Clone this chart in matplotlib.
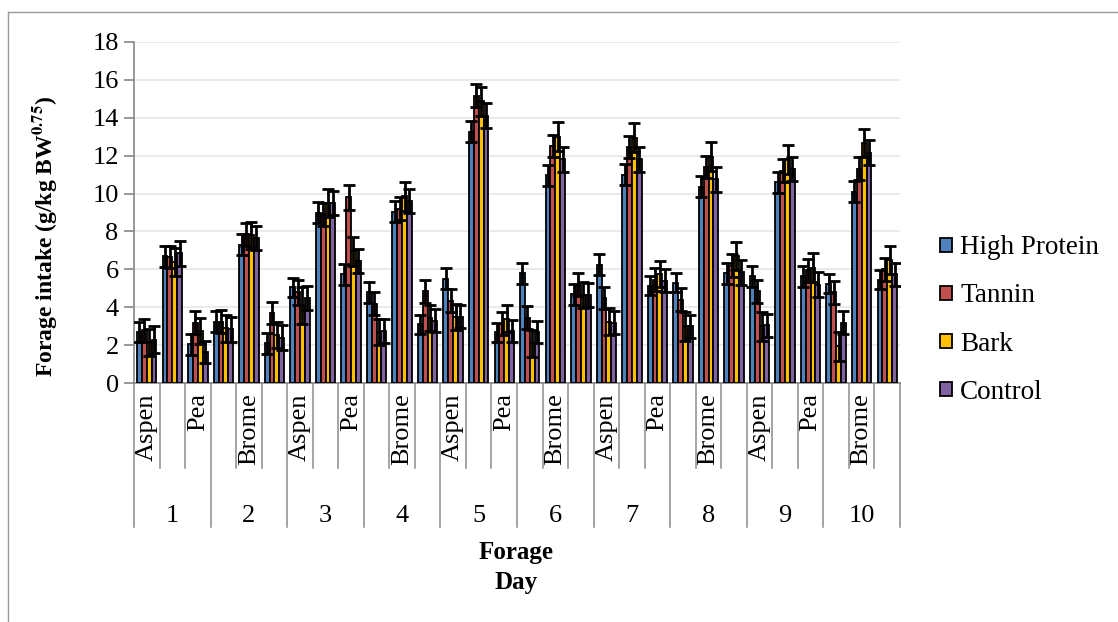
import numpy as np
import matplotlib
matplotlib.use('Agg')
import matplotlib.pyplot as plt
from matplotlib.lines import Line2D
import matplotlib.transforms as mtransforms

plt.rcParams['font.family'] = ['Liberation Serif', 'DejaVu Serif']
plt.rcParams['mathtext.fontset'] = 'stix'

# forage order inside each day, labels only shown on every second category (as in Excel)
forages = ['Aspen', 'Brome', 'Pea']
days = ['1', '2', '3', '4', '5', '6', '7', '8', '9', '10']
series = ['High Protein', 'Tannin', 'Bark', 'Control']
colors = ['#4F81BD', '#C0504D', '#FFC000', '#8064A2']

high_protein = [2.7, 6.7, 2.05, 3.25, 7.3, 2.1, 5.05, 9.0, 5.75, 4.8,
                9.05, 3.1, 5.5, 13.25, 2.7, 5.8, 10.95, 4.7, 6.25, 11.0,
                5.15, 5.3, 10.35, 5.8, 5.65, 10.6, 5.65, 5.25, 10.1, 5.45]
tannin = [2.8, 6.65, 3.2, 3.25, 7.85, 3.7, 4.8, 8.9, 9.8, 4.2,
          9.2, 4.85, 4.35, 15.15, 3.15, 3.45, 12.5, 5.2, 4.5, 12.45,
          5.45, 4.4, 11.4, 6.2, 4.85, 11.2, 5.95, 4.8, 11.3, 6.0]
bark = [2.15, 6.4, 2.75, 2.9, 7.8, 2.55, 4.1, 9.5, 6.95, 2.7,
        9.85, 3.45, 3.5, 14.85, 3.4, 2.1, 13.0, 4.65, 3.25, 12.95,
        5.75, 3.0, 11.95, 6.7, 3.0, 11.8, 6.1, 1.95, 12.65, 6.5]
control = [2.3, 6.85, 1.65, 2.85, 7.65, 2.4, 4.5, 9.5, 6.45, 2.75,
           9.6, 3.3, 3.5, 14.1, 2.75, 2.7, 11.8, 4.65, 3.2, 11.8,
           5.4, 3.0, 10.75, 5.85, 3.05, 11.3, 5.2, 3.2, 12.15, 5.75]

high_protein_err = [0.55, 0.55, 0.55, 0.55, 0.55, 0.55, 0.5, 0.55, 0.55, 0.55,
                    0.55, 0.5, 0.55, 0.55, 0.5, 0.55, 0.55, 0.55, 0.55, 0.55,
                    0.5, 0.5, 0.55, 0.55, 0.55, 0.55, 0.55, 0.5, 0.55, 0.5]
tannin_err = [0.6, 0.6, 0.6, 0.6, 0.6, 0.6, 0.65, 0.6, 0.65, 0.6,
              0.6, 0.6, 0.6, 0.6, 0.6, 0.6, 0.6, 0.6, 0.6, 0.6,
              0.6, 0.6, 0.6, 0.6, 0.6, 0.6, 0.6, 0.6, 0.6, 0.6]
bark_err = [0.7, 0.75, 0.7, 0.7, 0.7, 0.7, 1.0, 0.75, 0.75, 0.7,
            0.75, 0.7, 0.7, 0.75, 0.7, 0.7, 0.75, 0.7, 0.7, 0.75,
            0.7, 0.75, 0.75, 0.75, 0.75, 0.75, 0.75, 0.75, 0.75, 0.75]
control_err = [0.7, 0.65, 0.6, 0.65, 0.65, 0.65, 0.65, 0.65, 0.65, 0.65,
               0.65, 0.6, 0.6, 0.65, 0.6, 0.6, 0.65, 0.65, 0.6, 0.65,
               0.6, 0.6, 0.65, 0.65, 0.6, 0.65, 0.65, 0.6, 0.65, 0.6]

values = [high_protein, tannin, bark, control]
errors = [high_protein_err, tannin_err, bark_err, control_err]

W, H = 1118, 622
fig = plt.figure(figsize=(W / 100, H / 100), dpi=100)
ax_l, ax_r, ax_t, ax_b = 134, 900, 41.7, 383.3
ax = fig.add_axes([ax_l / W, 1 - ax_b / H, (ax_r - ax_l) / W, (ax_b - ax_t) / H])
ax_h = ax_b - ax_t

n_cat = len(days) * len(forages)
x = np.arange(n_cat) + 0.5
bw = 0.19
for j, (name, vals, errs, c) in enumerate(zip(series, values, errors, colors)):
    xs = x + (j - 1.5) * bw
    ax.bar(xs, vals, width=bw, color=c, edgecolor='black', linewidth=1.3,
           label=name, zorder=3)
    ax.errorbar(xs, vals, yerr=errs, fmt='none', ecolor='black', elinewidth=2,
                capsize=4.5, capthick=2, zorder=4)

ax.set_xlim(0, n_cat)
ax.set_ylim(0, 18)
ax.set_yticks(np.arange(0, 19, 2))
ax.yaxis.grid(True, color='#e6e6e6', linewidth=1.2, zorder=0)
ax.set_axisbelow(True)
ax.tick_params(axis='y', labelsize=19, length=7, color='#888888', width=1.2, pad=4)
ax.set_xticks([])
for s in ['top', 'right']:
    ax.spines[s].set_visible(False)
for s in ['left', 'bottom']:
    ax.spines[s].set_color('#888888')
    ax.spines[s].set_linewidth(1.2)

# multi-level category axis
trans = mtransforms.blended_transform_factory(ax.transData, ax.transAxes)
cat_drop = 85 / ax_h
day_drop = 144 / ax_h
for i in range(n_cat + 1):
    drop = day_drop if i % 3 == 0 else cat_drop
    ax.add_line(Line2D([i, i], [0, -drop], transform=trans, color='#8c8c8c',
                       linewidth=1.1, clip_on=False))
for i in range(0, n_cat, 2):
    ax.text(i + 0.5, -10 / ax_h, forages[i % 3], transform=trans, rotation=90,
            ha='center', va='top', fontsize=19)
for d, lab in enumerate(days):
    ax.text(3 * d + 1.5, -132.5 / ax_h, lab, transform=trans, ha='center',
            va='center', fontsize=19)

fig.text(516 / W, 1 - 552 / H, 'Forage', ha='center', va='center',
         fontsize=18, fontweight='bold')
fig.text(516 / W, 1 - 583 / H, 'Day', ha='center', va='center',
         fontsize=18, fontweight='bold')
fig.text(45 / W, 1 - 236 / H, r'Forage intake (g/kg BW$^{\mathbf{0.75}}$)',
         rotation=90, ha='center', va='center', fontsize=17, fontweight='bold')

fig.legend(loc='center left', bbox_to_anchor=(940 / W, 1 - 320 / H), frameon=False,
           fontsize=19.5, handlelength=0.45, handleheight=0.45, handletextpad=0.3,
           labelspacing=0.85, borderaxespad=0, borderpad=0)

# chart area border (cropped in the original)
fig.add_artist(Line2D([8 / W, 1], [1 - 12 / H, 1 - 12 / H], transform=fig.transFigure,
                      color='#9a9a9a', linewidth=1))
fig.add_artist(Line2D([8 / W, 8 / W], [0, 1 - 12 / H], transform=fig.transFigure,
                      color='#9a9a9a', linewidth=1))

fig.savefig('out.png', dpi=100)
